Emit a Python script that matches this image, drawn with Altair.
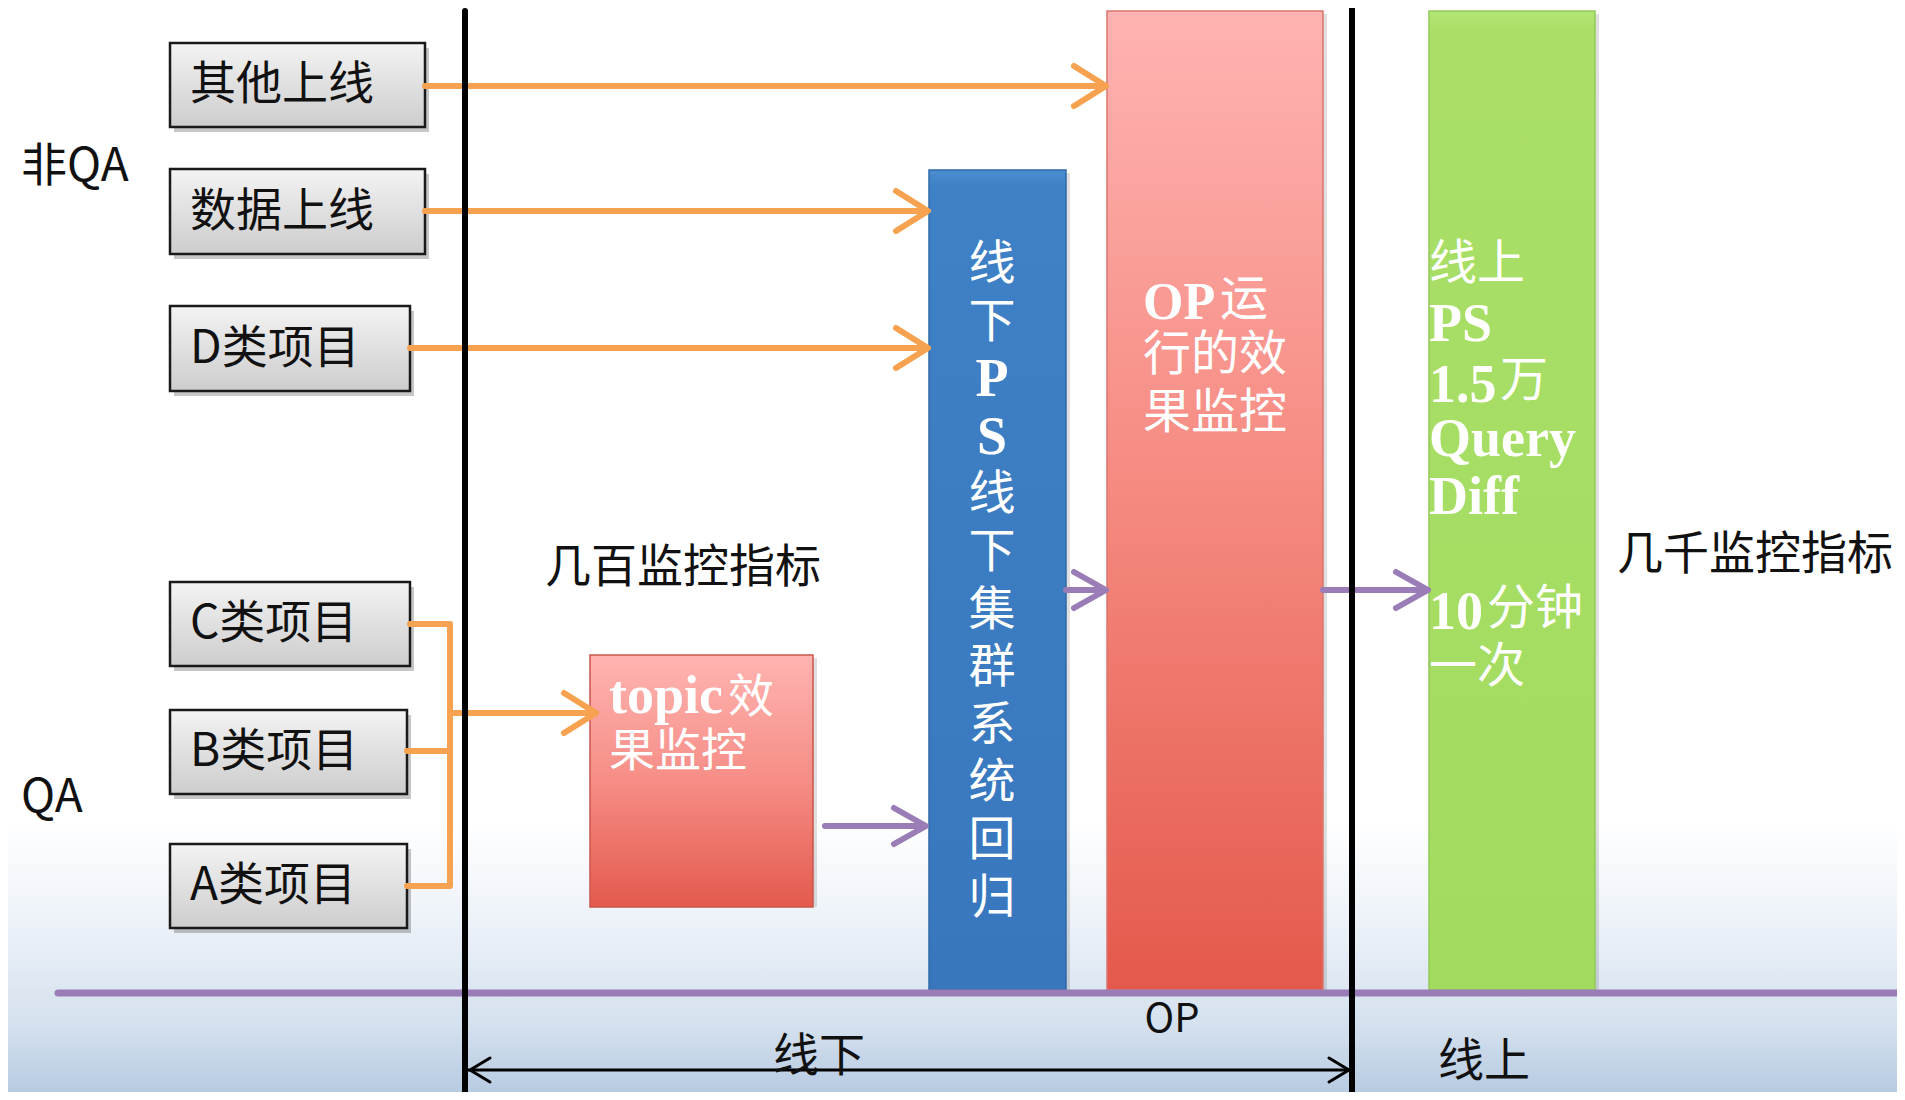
import altair as alt
import pandas as pd

# ---------------- data ----------------
CJK = "Noto Sans CJK SC"
SERIF = "Liberation Serif"

# left-hand source boxes
box_labels = ["其他上线", "数据上线", "D类项目", "C类项目", "B类项目", "A类项目"]
box_left = [170, 170, 170, 170, 170, 170]
box_right = [425, 425, 410, 410, 407, 407]
box_top = [43, 169, 306, 582, 710, 844]
box_bottom = [127, 254, 391, 666, 794, 928]

# coloured stages
stage_names = ["topic", "blue", "red", "green"]
stage_left = [590, 929, 1107, 1429]
stage_right = [813, 1066, 1323, 1595]
stage_top = [655, 170, 11, 11]
stage_bottom = [907, 990, 990, 990]

# vertical text of the blue stage
blue_chars = ["线", "下", "P", "S", "线", "下", "集", "群", "系", "统", "回", "归"]
blue_bold = [False, False, True, True, False, False, False, False, False, False, False, False]

# plain black labels
labels = ["非QA", "QA", "几百监控指标", "几千监控指标", "线下", "线上"]
label_x = [21, 21, 545, 1617, 773, 1438]
label_y = [167, 798, 568, 555, 1057, 1062]

# ---------------- scales ----------------
X0, X1 = 8, 1897
Y0, Y1 = 8, 1092
W, H = X1 - X0, Y1 - Y0
xs = alt.Scale(domain=[X0, X1], nice=False, zero=False)
ys = alt.Scale(domain=[Y0, Y1], nice=False, zero=False, reverse=True)


def grad(stops):
    return {"gradient": "linear", "x1": 0, "y1": 0, "x2": 0, "y2": 1,
            "stops": [{"offset": o, "color": c} for o, c in stops]}


def rects(df, **mark):
    return alt.Chart(df).mark_rect(**mark).encode(
        x=alt.X("x:Q", scale=xs, axis=None), x2="x2:Q",
        y=alt.Y("y:Q", scale=ys, axis=None), y2="y2:Q")


def texts(df, color, size, weight="normal", font=CJK, align="left"):
    return alt.Chart(df).mark_text(
        color=color, fontSize=size, fontWeight=weight, font=font,
        align=align, baseline="middle"
    ).encode(x=alt.X("x:Q", scale=xs, axis=None),
             y=alt.Y("y:Q", scale=ys, axis=None), text="t:N")


def lines(paths, color, width):
    rows = []
    for i, pts in enumerate(paths):
        for j, (x, y) in enumerate(pts):
            rows.append({"id": i, "o": j, "x": x, "y": y})
    return alt.Chart(pd.DataFrame(rows)).mark_line(
        color=color, strokeWidth=width, strokeCap="round", strokeJoin="round"
    ).encode(x=alt.X("x:Q", scale=xs, axis=None),
             y=alt.Y("y:Q", scale=ys, axis=None),
             detail="id:N", order="o:Q")


def head(tx, ty, dx, dy):
    # open chevron pointing towards the tip (tx, ty); dx>0 points right
    return [(tx - dx, ty - dy), (tx, ty), (tx - dx, ty + dy)]


layers = []

# background haze at the bottom
bg = pd.DataFrame({"x": [X0], "x2": [X1], "y": [820], "y2": [Y1]})
layers.append(rects(bg, color=grad([(0, "#ffffff"), (0.35, "#eef3f9"),
                                    (0.75, "#d5e1ee"), (1, "#b7cbe2")])))

# source boxes
boxes = pd.DataFrame({"x": box_left, "x2": box_right, "y": box_top,
                      "y2": box_bottom, "t": box_labels})
shadow = boxes.assign(x=boxes.x + 4, x2=boxes.x2 + 4, y=boxes.y + 5, y2=boxes.y2 + 5)
layers.append(rects(shadow, color="#000000", opacity=0.22))
layers.append(rects(boxes, color=grad([(0, "#f3f3f3"), (1, "#cdcdcd")]),
                    stroke="#1a1a1a", strokeWidth=2.5))
layers.append(texts(boxes.assign(x=190, y=(boxes.y + boxes.y2) / 2), "#111111", 46))

# stages
st = pd.DataFrame({"x": stage_left, "x2": stage_right, "y": stage_top,
                   "y2": stage_bottom, "n": stage_names})
layers.append(rects(st.assign(x=st.x + 4, x2=st.x2 + 4, y=st.y + 3, y2=st.y2),
                    color="#000000", opacity=0.12))
stage_fill = {
    "topic": grad([(0, "#ffb4b1"), (0.5, "#f68d86"), (1, "#e45a4d")]),
    "blue": grad([(0, "#4d8ed3"), (0.02, "#3f81c6"), (1, "#3877bd")]),
    "red": grad([(0, "#ffb3b2"), (0.5, "#f5897f"), (1, "#e4594b")]),
    "green": grad([(0, "#b4e676"), (0.02, "#a9df67"), (1, "#a3db60")]),
}
stage_stroke = {"topic": "#c9554c", "blue": "#2f6aa8", "red": "#d9756d", "green": "#93c957"}
for n in stage_names:
    layers.append(rects(st[st.n == n], color=stage_fill[n], stroke=stage_stroke[n],
                        strokeWidth=1.5))

# orange arrows
orange = "#f7a250"
orange_paths = [
    [(425, 86), (1104, 86)], head(1106, 86, 32, 20),
    [(425, 211), (926, 211)], head(928, 211, 32, 20),
    [(410, 348), (926, 348)], head(928, 348, 32, 20),
    [(410, 624), (450, 624), (450, 886), (407, 886)],
    [(407, 751), (450, 751)],
    [(450, 713), (594, 713)], head(596, 713, 32, 20),
]
layers.append(lines(orange_paths, orange, 6))

# purple arrows and base line
purple = "#9a7db7"
purple_paths = [
    [(825, 826), (924, 826)], head(926, 826, 32, 18),
    [(1066, 590), (1104, 590)], head(1106, 590, 32, 18),
    [(1323, 590), (1426, 590)], head(1428, 590, 32, 18),
]
layers.append(lines(purple_paths, purple, 6))
layers.append(lines([[(58, 993), (1897, 993)]], purple, 7))

# black dividers and span arrow
layers.append(lines([[(465, 11), (465, 1100)], [(1352, 7), (1352, 1100)]], "#000000", 6))
layers.append(lines([[(467, 1070), (1350, 1070)], head(470, 1070, -20, 12),
                     head(1349, 1070, 20, 12)], "#000000", 3))

# white text inside the stages
blue_df = pd.DataFrame({"t": blue_chars, "b": blue_bold,
                        "x": 992, "y": [265 + 57.6 * i for i in range(len(blue_chars))]})
layers.append(texts(blue_df[~blue_df.b], "#ffffff", 47, align="center"))
layers.append(texts(blue_df[blue_df.b], "#ffffff", 54, "bold", SERIF, align="center"))

red_cjk = pd.DataFrame({"t": ["运", "行的效", "果监控"], "x": [1220, 1143, 1143],
                        "y": [301, 356, 414]})
red_lat = pd.DataFrame({"t": ["OP"], "x": [1143], "y": [303]})
layers.append(texts(red_cjk, "#ffffff", 48))
layers.append(texts(red_lat, "#ffffff", 52, "bold", SERIF))

green_cjk = pd.DataFrame({"t": ["线上", "万", "分钟", "一次"],
                          "x": [1429, 1500, 1487, 1429], "y": [265, 382, 610, 668]})
green_lat = pd.DataFrame({"t": ["PS", "1.5", "Query", "Diff", "10"],
                          "x": [1429, 1429, 1429, 1429, 1429],
                          "y": [325, 386, 440, 498, 613]})
layers.append(texts(green_cjk, "#ffffff", 48))
layers.append(texts(green_lat, "#ffffff", 54, "bold", SERIF))

topic_cjk = pd.DataFrame({"t": ["效", "果监控"], "x": [728, 609], "y": [698, 752]})
topic_lat = pd.DataFrame({"t": ["topic"], "x": [609], "y": [697]})
layers.append(texts(topic_cjk, "#ffffff", 46))
layers.append(texts(topic_lat, "#ffffff", 54, "bold", SERIF))

# black labels
lab = pd.DataFrame({"t": labels, "x": label_x, "y": label_y})
layers.append(texts(lab, "#111111", 46))
layers.append(texts(pd.DataFrame({"t": ["OP"], "x": [1172], "y": [1020]}),
                    "#111111", 40, align="center"))

chart = alt.layer(*layers).properties(
    width=W, height=H, padding=0,
    autosize=alt.AutoSizeParams(type="none"),
    background="#ffffff",
).configure_view(stroke=None)

chart.save("out.html", embed_options={"renderer": "svg", "actions": False})
